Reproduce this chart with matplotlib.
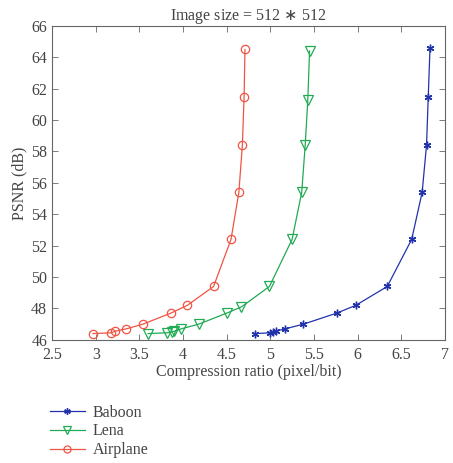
import numpy as np
import matplotlib.pyplot as plt

# values
baboon_x = [4.83, 5.00, 5.03, 5.06, 5.17, 5.38, 5.76, 5.98, 6.34, 6.62, 6.74, 6.79, 6.81, 6.83]
baboon_y = [46.4, 46.45, 46.5, 46.55, 46.7, 47.0, 47.7, 48.2, 49.4, 52.4, 55.4, 58.4, 61.5, 64.6]
lena_x = [3.60, 3.82, 3.87, 3.90, 3.98, 4.18, 4.50, 4.67, 4.99, 5.25, 5.36, 5.40, 5.43, 5.45]
lena_y = [46.4, 46.45, 46.5, 46.55, 46.7, 47.0, 47.7, 48.1, 49.4, 52.4, 55.4, 58.4, 61.3, 64.4]
plane_x = [2.97, 3.18, 3.22, 3.35, 3.54, 3.86, 4.05, 4.35, 4.55, 4.64, 4.68, 4.70, 4.71]
plane_y = [46.4, 46.45, 46.55, 46.7, 47.0, 47.7, 48.2, 49.4, 52.4, 55.4, 58.4, 61.5, 64.5]

plt.rcParams['font.family'] = 'Liberation Serif'
txt = '#444444'
fs = 11.5

fig = plt.figure(figsize=(4.53, 4.63), dpi=100)
ax = fig.add_axes([0.115, 0.266, 0.867, 0.678])

l1, = ax.plot(baboon_x, baboon_y, '-', marker=(6, 2, 0), color='#2233aa', ms=5.5, lw=0.9, mew=1.0)
l2, = ax.plot(lena_x, lena_y, '-', marker='v', color='#22aa55', ms=6.5, lw=0.9, mfc='none', mew=0.9)
l3, = ax.plot(plane_x, plane_y, '-', marker='o', color='#ee5544', ms=6, lw=0.9, mfc='none', mew=0.9)

ax.set_xlim(2.5, 7)
ax.set_ylim(46, 66)
ax.set_xticks(np.arange(2.5, 7.01, 0.5))
ax.set_xticklabels(['2.5', '3', '3.5', '4', '4.5', '5', '5.5', '6', '6.5', '7'])
ax.set_yticks(np.arange(46, 66.1, 2))
ax.tick_params(direction='in', top=True, right=True, length=4, width=0.6,
               colors='#666666', labelcolor=txt, labelsize=fs)
ax.tick_params(axis='x', pad=5)
for s in ax.spines.values():
    s.set_color('#666666')
    s.set_linewidth(0.8)

ax.set_title('Image size = 512 $\\ast$ 512', fontsize=fs, color=txt, pad=4)
ax.set_xlabel('Compression ratio (pixel/bit)', fontsize=fs, color=txt, labelpad=1)
ax.set_ylabel('PSNR (dB)', fontsize=fs, color=txt, labelpad=3)

fig.legend([l1, l2, l3], ['Baboon', 'Lena', 'Airplane'], loc='upper left',
           bbox_to_anchor=(0.096, 0.14), frameon=False, fontsize=fs,
           labelcolor=txt, handlelength=2.2, handletextpad=0.5, labelspacing=0.18,
           markerscale=0.85, borderaxespad=0)

fig.savefig('out.png', dpi=100)
